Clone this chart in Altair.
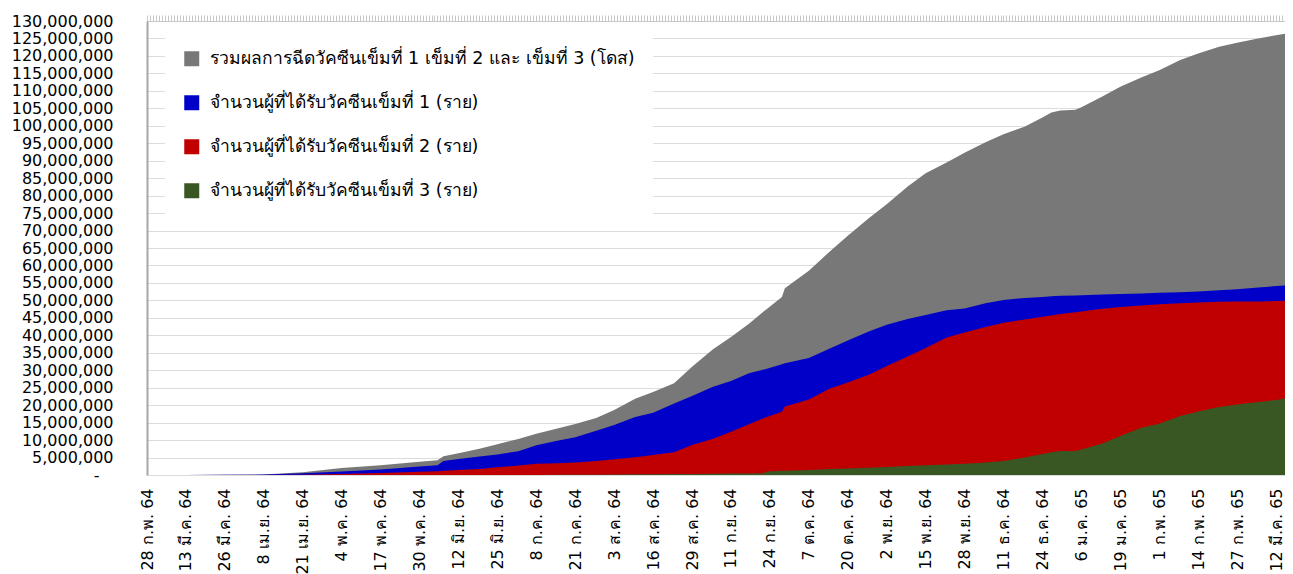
import altair as alt
import pandas as pd

dates = [
    "2021-02-28", "2021-03-13", "2021-03-26", "2021-04-08", "2021-04-21", "2021-05-04",
    "2021-05-17", "2021-05-30", "2021-06-05", "2021-06-07", "2021-06-12", "2021-06-19",
    "2021-06-25", "2021-07-02", "2021-07-08", "2021-07-15", "2021-07-21", "2021-07-28",
    "2021-08-03", "2021-08-10", "2021-08-16", "2021-08-23", "2021-08-29", "2021-09-05",
    "2021-09-11", "2021-09-17", "2021-09-22", "2021-09-23", "2021-09-28", "2021-09-29",
    "2021-10-07", "2021-10-14", "2021-10-20", "2021-10-27", "2021-11-02", "2021-11-09",
    "2021-11-15", "2021-11-22", "2021-11-28", "2021-12-05", "2021-12-11", "2021-12-18",
    "2021-12-24", "2021-12-27", "2021-12-30", "2022-01-04", "2022-01-06", "2022-01-13",
    "2022-01-19", "2022-01-26", "2022-02-01", "2022-02-08", "2022-02-14", "2022-02-21",
    "2022-02-27", "2022-03-06", "2022-03-12", "2022-03-16",
]

# values in millions
total_doses = [
    0, 0.02, 0.05, 0.15, 0.8, 2.0, 2.8, 3.8, 4.2, 5.4, 6.2, 7.5,
    8.8, 10.3, 11.8, 13.3, 14.6, 16.3, 18.6, 21.8, 23.8, 26.3, 31.0, 36.0,
    39.5, 43.3, 46.9, 47.5, 51.0, 53.5, 58.5, 64.0, 68.5, 73.5, 77.5, 82.6,
    86.4, 89.5, 92.3, 95.3, 97.6, 99.7, 102.4, 103.8, 104.4, 104.6, 105.3, 108.4,
    111.2, 113.8, 115.9, 118.8, 120.7, 122.6, 123.8, 125.0, 125.9, 126.5,
]
dose1 = [
    0, 0.02, 0.05, 0.12, 0.5, 1.0, 1.6, 2.4, 2.8, 4.0, 4.6, 5.3,
    5.9, 6.8, 8.5, 9.8, 10.8, 12.7, 14.3, 16.6, 17.8, 20.5, 22.6, 25.3,
    26.9, 29.1, 30.2, 30.4, 31.7, 32.0, 33.5, 36.2, 38.5, 41.1, 43.0, 44.7,
    45.8, 47.2, 47.7, 49.2, 50.1, 50.7, 51.0, 51.2, 51.3, 51.4, 51.5, 51.7,
    51.85, 52.0, 52.2, 52.3, 52.55, 52.9, 53.2, 53.7, 54.1, 54.3,
]
dose2 = [
    0, 0, 0.01, 0.03, 0.1, 0.3, 0.6, 0.9, 1.1, 1.2, 1.4, 1.75,
    2.2, 2.7, 3.2, 3.4, 3.6, 4.0, 4.5, 5.1, 5.7, 6.5, 8.6, 10.4,
    12.4, 14.5, 16.3, 16.6, 18.1, 19.6, 21.6, 24.8, 26.5, 28.7, 31.2, 33.9,
    36.4, 39.4, 40.8, 42.4, 43.6, 44.5, 45.3, 45.7, 46.1, 46.6, 46.8, 47.6,
    48.1, 48.5, 48.9, 49.2, 49.4, 49.6, 49.7, 49.7, 49.8, 49.9,
]
dose3 = [
    0, 0, 0, 0, 0, 0, 0, 0, 0, 0, 0, 0,
    0.01, 0.02, 0.03, 0.05, 0.07, 0.1, 0.15, 0.2, 0.25, 0.28, 0.32, 0.36,
    0.4, 0.45, 0.5, 1.0, 1.2, 1.25, 1.45, 1.7, 1.85, 2.05, 2.3, 2.6,
    2.8, 3.0, 3.25, 3.6, 4.0, 5.0, 6.0, 6.5, 6.9, 6.9, 7.3, 9.0,
    11.2, 13.5, 14.7, 16.9, 18.2, 19.5, 20.2, 20.9, 21.5, 22.0,
]

series_names = [
    "รวมผลการฉีดวัคซีนเข็มที่ 1 เข็มที่ 2 และ เข็มที่ 3 (โดส)",
    "จำนวนผู้ที่ได้รับวัคซีนเข็มที่ 1 (ราย)",
    "จำนวนผู้ที่ได้รับวัคซีนเข็มที่ 2 (ราย)",
    "จำนวนผู้ที่ได้รับวัคซีนเข็มที่ 3 (ราย)",
]
series_colors = ["#787878", "#0000C8", "#C00000", "#385723"]
series_values = [total_doses, dose1, dose2, dose3]

label_dates = pd.date_range("2021-02-28", periods=30, freq="13D")
thai_months = ["ม.ค.", "ก.พ.", "มี.ค.", "เม.ย.", "พ.ค.", "มิ.ย.",
               "ก.ค.", "ส.ค.", "ก.ย.", "ต.ค.", "พ.ย.", "ธ.ค."]

rows = []
for name, vals in zip(series_names, series_values):
    for d, v in zip(dates, vals):
        rows.append({"date": d + "T00:00:00", "series": name, "value": v * 1_000_000})
df = pd.DataFrame(rows)

FONT = "Tahoma, 'DejaVu Sans', 'Noto Sans', sans-serif"
x_domain = [alt.DateTime(year=2021, month=2, date=28), alt.DateTime(year=2022, month=3, date=15)]
x_scale = alt.Scale(domain=x_domain)
y_scale = alt.Scale(domain=[0, 130_000_000])

month_arr = "[" + ",".join("'" + m + "'" for m in thai_months) + "]"
x_label_expr = ("date(datum.value) + ' ' + " + month_arr +
                "[month(datum.value)] + ' ' + (year(datum.value) + 543 - 2500)")

x_label_axis = alt.Axis(
    values=[alt.DateTime(year=d.year, month=d.month, date=d.day) for d in label_dates],
    labelExpr=x_label_expr, labelAngle=270, labelFontSize=16, labelFont=FONT,
    labelColor="#000000", labelPadding=13, labelOverlap=False, ticks=False,
    grid=False, domain=False, title=None, labelFlush=False,
)
x_tick_axis = alt.Axis(
    tickCount={"interval": "day", "step": 1}, labels=False, ticks=True, tickSize=6,
    tickColor="#c8c8c8", tickWidth=1, grid=False, domainColor="#c8c8c8", title=None,
)
y_axis = alt.Axis(
    values=list(range(0, 130_000_001, 5_000_000)),
    labelExpr="datum.value == 0 ? '-' : format(datum.value, ',')",
    labelFontSize=16, labelFont=FONT, labelColor="#000000",
    labelPadding={"condition": {"test": "datum.value == 0", "value": 48}, "value": 34},
    ticks=False, grid=True, gridColor="#dcdcdc", gridWidth=1,
    domain=True, domainColor="#a6a6a6", domainWidth=2, title=None,
)

color = alt.Color(
    "series:N",
    scale=alt.Scale(domain=series_names, range=series_colors),
    legend=alt.Legend(
        title=None, orient="none", legendX=18, legendY=11, fillColor="#ffffff",
        padding=18, symbolType="square", symbolSize=225, symbolStrokeWidth=0,
        labelFontSize=17.5, labelFont=FONT, labelColor="#000000", rowPadding=25,
        labelOffset=9, labelLimit=700,
    ),
)

layers = []
for i, name in enumerate(series_names):
    if i == 0:
        xa, ya = x_label_axis, y_axis
    elif i == 1:
        xa, ya = x_tick_axis, None
    else:
        xa, ya = None, None
    layer = alt.Chart(df).transform_filter(
        alt.datum.series == name
    ).mark_area(clip=True, opacity=1, interpolate="linear").encode(
        x=alt.X("date:T", scale=x_scale, axis=xa),
        y=alt.Y("value:Q", scale=y_scale, axis=ya, stack=None),
        color=color,
    )
    layers.append(layer)

chart = alt.layer(*layers).resolve_axis(x="independent", y="independent").properties(
    width=1138, height=454,
    padding={"left": 139, "top": 13, "right": 0, "bottom": 99},
    autosize=alt.AutoSizeParams(type="none"),
    background="#ffffff",
).configure_view(stroke="#bfbfbf", strokeWidth=1)

chart.save("out.html", embed_options={"renderer": "svg", "actions": False})
